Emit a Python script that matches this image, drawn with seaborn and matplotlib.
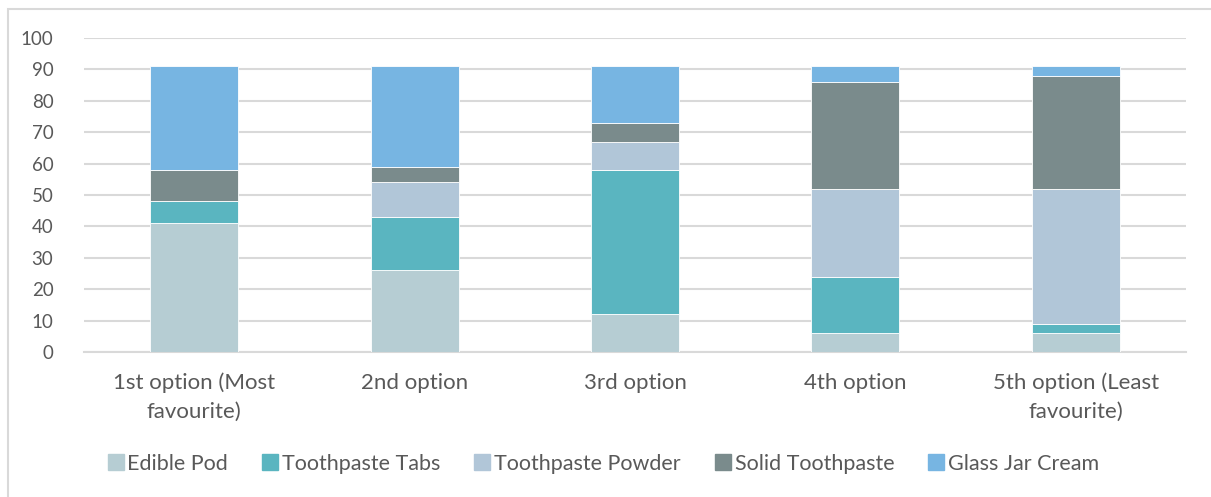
import matplotlib
matplotlib.use("Agg")
import matplotlib.pyplot as plt
import seaborn as sns
import pandas as pd
import numpy as np
from matplotlib.patches import Rectangle
from matplotlib.lines import Line2D

categories = ["1st option (Most\nfavourite)", "2nd option", "3rd option", "4th option",
              "5th option (Least\nfavourite)"]
series_names = ["Edible Pod", "Toothpaste Tabs", "Toothpaste Powder", "Solid Toothpaste", "Glass Jar Cream"]
edible_pod = [41, 26, 12, 6, 6]
toothpaste_tabs = [7, 17, 46, 18, 3]
toothpaste_powder = [0, 11, 9, 28, 43]
solid_toothpaste = [10, 5, 6, 34, 36]
glass_jar_cream = [33, 32, 18, 5, 3]
colors = ["#B6CDD3", "#5AB5C0", "#B1C6D8", "#7A8B8C", "#77B5E2"]

sns.set_theme(style="white")
plt.rcParams["font.family"] = ["Lato", "DejaVu Sans"]

W, H = 1211, 497
fig = plt.figure(figsize=(W / 100, H / 100), dpi=100)
ax = fig.add_axes([84 / W, 1 - 352 / H, (1186 - 84) / W, (352 - 38) / H])

all_series = [edible_pod, toothpaste_tabs, toothpaste_powder, solid_toothpaste, glass_jar_cream]
bottom = np.zeros(len(categories))
for name, vals, col in zip(series_names, all_series, colors):
    df = pd.DataFrame({"cat": categories, "val": vals})
    sns.barplot(data=df, x="cat", y="val", bottom=bottom, color=col, width=0.4,
                ax=ax, saturation=1, edgecolor="white", linewidth=0.6, zorder=3)
    bottom = bottom + np.array(vals)

ax.set_ylim(0, 100)
ax.set_xlim(-0.5, 4.5)
ax.set_yticks(range(0, 101, 10))
ax.yaxis.grid(True, color="#D9D9D9", linewidth=1.5, zorder=0)
ax.set_axisbelow(True)
for s in ["top", "right", "left"]:
    ax.spines[s].set_visible(False)
ax.spines["bottom"].set_color("#D9D9D9")
ax.spines["bottom"].set_linewidth(1.5)
ax.set_xlabel("")
ax.set_ylabel("")
ax.tick_params(axis="both", length=0, colors="#595959")
ax.tick_params(axis="y", pad=22, labelsize=13.5)
ax.tick_params(axis="x", pad=15, labelsize=16)
for lbl in ax.get_xticklabels():
    lbl.set_linespacing(1.5)

handles = [Line2D([0], [0], marker="s", linestyle="none", markersize=11,
                  markerfacecolor=c, markeredgecolor=c) for c in colors]
fig.legend(handles, series_names, loc="center", bbox_to_anchor=(602 / W, 1 - 464 / H),
           ncol=5, frameon=False, fontsize=15.5, labelcolor="#595959",
           handletextpad=0.05, columnspacing=1.45, handlelength=1.0)

fig.add_artist(Rectangle((8 / W, -0.1), 1.2, 1 - 9 / H + 0.1, transform=fig.transFigure,
                         fill=False, edgecolor="#D9D9D9", linewidth=1.5))

fig.savefig("out.png", dpi=100, facecolor="white")
